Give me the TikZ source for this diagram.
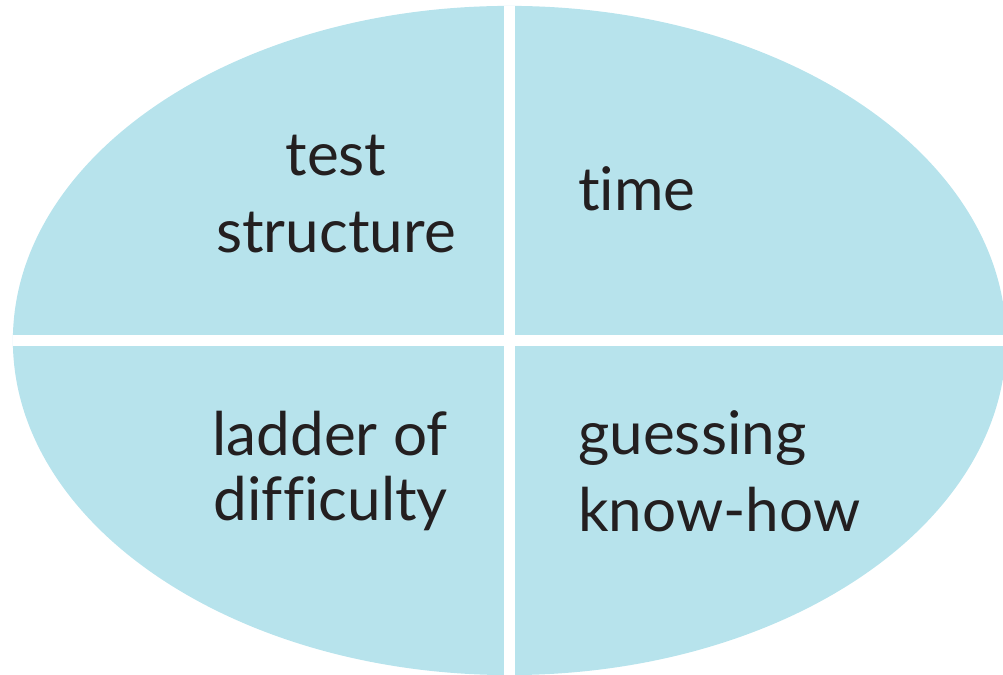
\documentclass[tikz,border=0pt]{standalone}
\usepackage{fontspec}
\setmainfont{Lato}[Ligatures={NoCommon}]
\usetikzlibrary{shapes.geometric}
\definecolor{paleblue}{RGB}{183,227,236}
\definecolor{inkgrey}{RGB}{35,31,32}
\begin{document}
\begin{tikzpicture}[x=0.025cm, y=0.025cm,
    quarter/.style={text=inkgrey, inner sep=0pt, font=\fontsize{42.8}{54.5}\selectfont},
    gap/.style={draw=white, line width=0.275cm}]
                \useasboundingbox (0,0) rectangle (1003,675);
                \clip (0,0) rectangle (1003,675);
                \node[ellipse, fill=paleblue, inner sep=0pt, minimum width=24.825cm, minimum height=16.725cm] (oval) at (509.5,334.5) {};
                \draw[gap] (oval.north) -- (oval.south);
                \draw[gap] (oval.west) -- (oval.east);
                \node[quarter, align=center] (structure) at (336,481) {test\\structure};
                \node[quarter, anchor=base west] (time) at (578,464) {time};
                \node[quarter, align=right, anchor=east, font=\fontsize{42.8}{46.5}\selectfont] (ladder) at (448,204) {ladder of\\difficulty};
                \node[quarter, align=left, anchor=west] (guessing) at (578,204) {guessing\\know-how};
            \end{tikzpicture}
\end{document}
